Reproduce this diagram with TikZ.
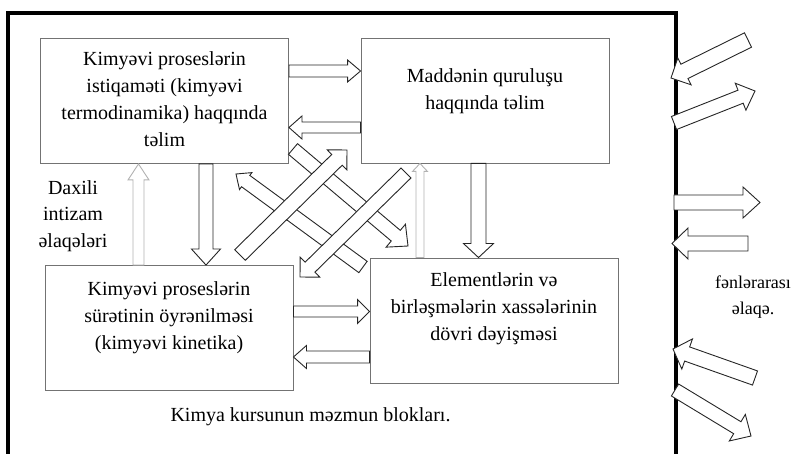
\documentclass[tikz,border=0pt]{standalone}
\usepackage{fontspec}
\setmainfont{Liberation Serif}
\usetikzlibrary{calc}

% hollow block arrow: [style]{tail}{tip}{half shaft}{half head}{head length}
\newcommand{\fatarrow}[6][]{%
  \coordinate (fa-h) at ($(#3)!#6pt!(#2)$);
  \draw[fat, #1] ($(#2)!#4pt!90:(#3)$) -- ($(fa-h)!#4pt!90:(#3)$)
    -- ($(fa-h)!#5pt!90:(#3)$) -- (#3) -- ($(fa-h)!#5pt!-90:(#3)$)
    -- ($(fa-h)!#4pt!-90:(#3)$) -- ($(#2)!#4pt!-90:(#3)$) -- cycle;}

\begin{document}
\begin{tikzpicture}[x=1pt, y=-1pt, line join=miter,
  block/.style={draw=black!55, line width=0.9pt, minimum width=248pt, minimum height=125pt},
  txt/.style={align=center, font=\fontsize{20}{27}\selectfont},
  fat/.style={draw=black!85, fill=white, line width=0.9pt},
  faint/.style={draw=black!30}]
  \useasboundingbox (0,0) rectangle (798,454);
  \draw[line width=3.5pt] (8,454) -- (8,13) -- (676,13) -- (676,454);

  \node[block] (A) at (164.5,101) {};
  \node[block] (B) at (485,100.5) {};
  \node[block] (C) at (169,328) {};
  \node[block] (D) at (494,320.5) {};

  \node[txt] (At) at (164.5,99) {Kimyəvi proseslərin\\istiqaməti (kimyəvi\\termodinamika) haqqında\\təlim};
  \node[txt] (Bt) at (485,91) {Maddənin quruluşu\\haqqında təlim};
  \node[txt] (Ct) at (169,318) {Kimyəvi proseslərin\\sürətinin öyrənilməsi\\(kimyəvi kinetika)};
  \node[txt] (Dt) at (494,309) {Elementlərin və\\birləşmələrin xassələrinin\\dövri dəyişməsi};
  \node[txt, font=\fontsize{20}{26.5}\selectfont] (inner) at (73,216) {Daxili\\intizam\\əlaqələri};
  \node[txt] (blocks) at (310.5,417) {Kimya kursunun məzmun blokları.};
  \node[txt, font=\fontsize{18}{26}\selectfont] (outer) at (753,297) {fənlərarası\\əlaqə.};

  \coordinate (ab1) at (A.east |- 0,71);      \coordinate (ab2) at (B.west |- 0,71);
  \coordinate (ba1) at (B.west |- 0,127.5);   \coordinate (ba2) at (A.east |- 0,127.5);
  \coordinate (cd1) at (C.east |- 0,311.5);   \coordinate (cd2) at (D.west |- 0,311.5);
  \coordinate (dc1) at (D.west |- 0,357);     \coordinate (dc2) at (C.east |- 0,357);
  \coordinate (ac1) at (206,0 |- A.south);    \coordinate (ac2) at (206,0 |- C.north);
  \coordinate (ca1) at (138.5,0 |- C.north);  \coordinate (ca2) at (138.5,0 |- A.south);
  \coordinate (db1) at (420,0 |- D.north);    \coordinate (db2) at (420,0 |- B.south);
  \coordinate (bd1) at (478.5,0 |- B.south);  \coordinate (bd2) at (478.5,0 |- D.north);

  \fatarrow{ab1}{ab2}{6}{11}{13}
  \fatarrow{ba1}{ba2}{5.5}{11.5}{13}
  \fatarrow{cd1}{cd2}{5.5}{12}{12}
  \fatarrow{dc1}{dc2}{6}{11.5}{13}
  \fatarrow{ac1}{ac2}{7}{14.5}{16}
  \fatarrow[faint]{ca1}{ca2}{5.5}{10.5}{16}
  \fatarrow[faint]{db1}{db2}{4}{7.5}{8}
  \fatarrow{bd1}{bd2}{7.5}{15}{14}

  \coordinate (da1) at (363,267);  \coordinate (da2) at (236,174);
  \coordinate (ad1) at (293,149);  \coordinate (ad2) at (408,246);
  \coordinate (cb1) at (240,255);  \coordinate (cb2) at (347,150);
  \coordinate (bc1) at (406,173);  \coordinate (bc2) at (300,277);
  \fatarrow{da1}{da2}{7}{10.5}{12}
  \fatarrow{ad1}{ad2}{7}{15}{16}
  \fatarrow{cb1}{cb2}{7.5}{14}{14}
  \fatarrow{bc1}{bc2}{7}{14}{14}

  \coordinate (r1a) at (748,40);     \coordinate (r1b) at (671,78);
  \coordinate (r2a) at (674,123);    \coordinate (r2b) at (755,91);
  \coordinate (r3a) at (674,202.5);  \coordinate (r3b) at (760,202.5);
  \coordinate (r4a) at (748,243.5);  \coordinate (r4b) at (672,243.5);
  \coordinate (r5a) at (755,378);    \coordinate (r5b) at (673,349);
  \coordinate (r6a) at (675,390);    \coordinate (r6b) at (751,436);
  \fatarrow{r1a}{r1b}{8}{15}{15}
  \fatarrow{r2a}{r2b}{7}{14.5}{15.5}
  \fatarrow{r3a}{r3b}{7.5}{15.5}{17}
  \fatarrow{r4a}{r4b}{7.5}{15.5}{16}
  \fatarrow{r5a}{r5b}{7.5}{16}{15}
  \fatarrow{r6a}{r6b}{7}{15.5}{16}
\end{tikzpicture}
\end{document}
